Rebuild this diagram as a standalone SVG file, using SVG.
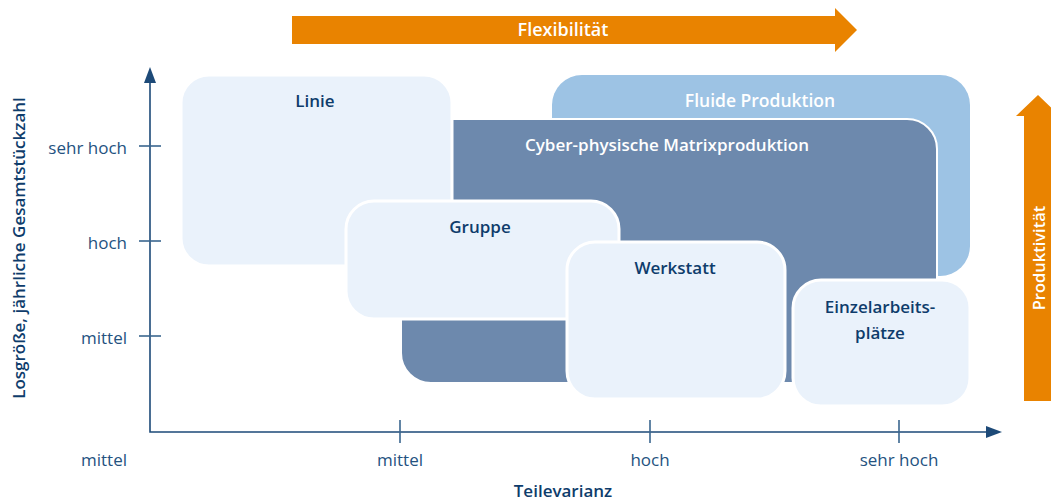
<svg xmlns="http://www.w3.org/2000/svg" width="1051" height="503" viewBox="0 0 1051 503">
  <style>
    .lbl { font-family: "Open Sans", "Liberation Sans", sans-serif; font-weight: 600; font-size: 17px; text-anchor: middle; }
    .dark { fill: #0e3c6b; }
    .white { fill: #ffffff; }
    .tick { font-family: "Open Sans", "Liberation Sans", sans-serif; font-size: 17px; fill: #24527f; }
    .light { fill: #eaf2fb; stroke: #ffffff; stroke-width: 3; }
    .axis { stroke: #1d4a78; stroke-width: 1.6; fill: none; }
    .tk { stroke: #3a668f; stroke-width: 1.6; }
    .arrowfill { fill: #e98300; }
  </style>

  <!-- Flexibilität arrow -->
  <g id="flexibilitaet">
    <polygon class="arrowfill" points="292,16 835,16 835,8 857,30 835,52 835,44 292,44"/>
    <text class="lbl white" x="563" y="36" style="font-size:18px">Flexibilität</text>
  </g>

  <!-- Produktivität arrow -->
  <g id="produktivitaet">
    <polygon class="arrowfill" points="1024,401 1024,116 1016,116 1038,95 1060,116 1052,116 1052,401"/>
    <text class="lbl white" transform="translate(1045,258) rotate(-90)" x="0" y="0" style="font-size:16.5px">Produktivität</text>
  </g>

  <!-- Fluide Produktion -->
  <g id="fluide">
    <rect x="552" y="75" width="418" height="201" rx="30" fill="#9dc3e4"/>
    <text class="lbl white" x="760" y="107" style="font-size:17.5px">Fluide Produktion</text>
  </g>

  <!-- Cyber-physische Matrixproduktion -->
  <g id="cps">
    <rect x="401" y="119" width="536" height="264" rx="30" fill="#6d89ad" stroke="#ffffff" stroke-width="2"/>
    <text class="lbl white" x="667" y="151">Cyber-physische Matrixproduktion</text>
  </g>

  <!-- Linie -->
  <g id="linie">
    <rect class="light" x="181" y="75" width="271" height="191" rx="28"/>
    <text class="lbl dark" x="315" y="107">Linie</text>
  </g>

  <!-- Gruppe -->
  <g id="gruppe">
    <rect class="light" x="346" y="201" width="273" height="118" rx="28"/>
    <text class="lbl dark" x="480" y="233">Gruppe</text>
  </g>

  <!-- Werkstatt -->
  <g id="werkstatt">
    <rect class="light" x="567" y="242" width="218" height="157" rx="28"/>
    <text class="lbl dark" x="675" y="274">Werkstatt</text>
  </g>

  <!-- Einzelarbeitsplätze -->
  <g id="einzel">
    <rect class="light" x="793" y="280" width="177" height="126" rx="28"/>
    <text class="lbl dark" x="880" y="313">Einzelarbeits-</text>
    <text class="lbl dark" x="880" y="339">plätze</text>
  </g>

  <!-- axes -->
  <g id="axes">
    <polyline class="axis" points="150,82 150,432 988,432"/>
    <polygon fill="#1d4a78" points="150,67 144,83 156,83"/>
    <polygon fill="#1d4a78" points="1002,432 986,426 986,438"/>
    <line class="tk" x1="139" y1="146" x2="161" y2="146"/>
    <line class="tk" x1="139" y1="241" x2="161" y2="241"/>
    <line class="tk" x1="139" y1="336" x2="161" y2="336"/>
    <line class="tk" x1="400" y1="420" x2="400" y2="443"/>
    <line class="tk" x1="650" y1="420" x2="650" y2="443"/>
    <line class="tk" x1="899" y1="420" x2="899" y2="443"/>
  </g>

  <!-- axis labels -->
  <g id="labels">
    <text class="tick" x="127" y="154" text-anchor="end">sehr hoch</text>
    <text class="tick" x="127" y="249" text-anchor="end">hoch</text>
    <text class="tick" x="127" y="344" text-anchor="end">mittel</text>
    <text class="tick" x="127" y="466" text-anchor="end">mittel</text>
    <text class="tick" x="400" y="466" text-anchor="middle">mittel</text>
    <text class="tick" x="650" y="466" text-anchor="middle">hoch</text>
    <text class="tick" x="899" y="466" text-anchor="middle">sehr hoch</text>
    <text class="lbl dark" x="563" y="497">Teilevarianz</text>
    <text class="lbl dark" transform="translate(25,248) rotate(-90)" x="0" y="0">Losgröße, jährliche Gesamtstückzahl</text>
  </g>
</svg>
